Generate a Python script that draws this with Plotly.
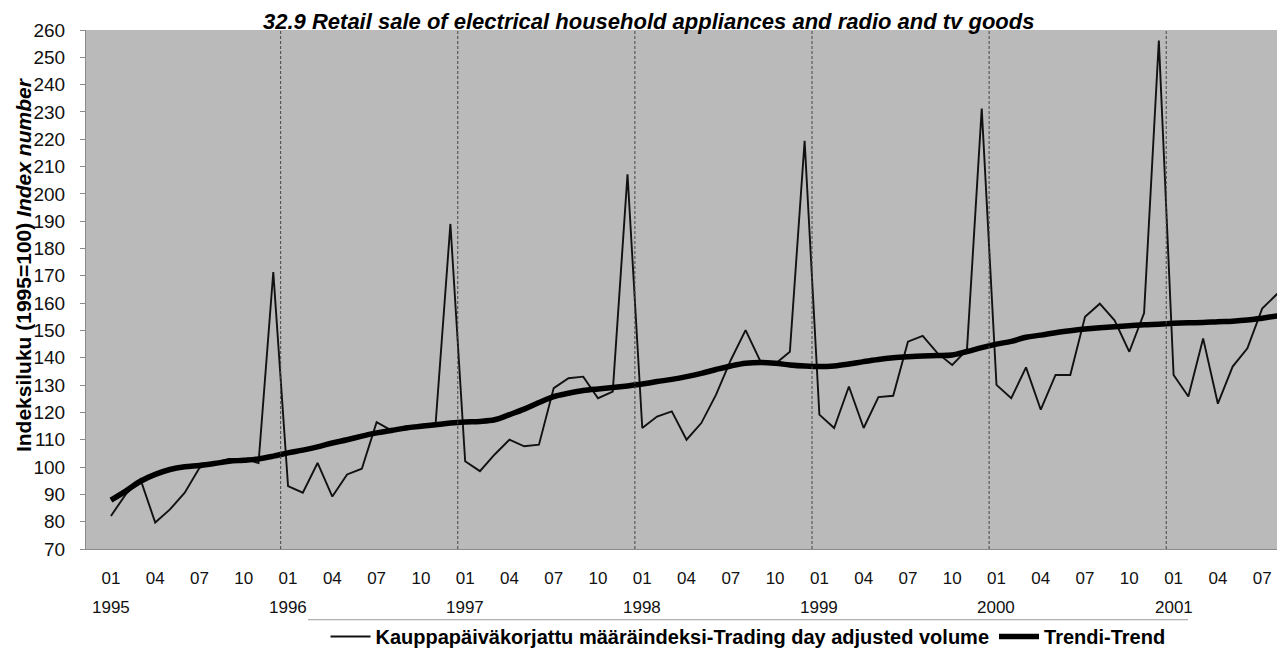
import plotly.graph_objects as go

# ---------------- data ----------------
years = ["1995", "1996", "1997", "1998", "1999", "2000", "2001"]
month_labels = ["01", "04", "07", "10"]

volume = [
    82.1, 90.0, 95.5, 79.7, 84.5, 90.6, 99.7, 101.5, 103.0, 103.0, 101.5, 171.4,   # 1995
    93.0, 90.6, 101.5, 89.2, 97.3, 99.4, 116.4, 113.4, 114.9, 115.5, 116.0, 189.0,  # 1996
    102.1, 98.5, 104.6, 110.0, 107.6, 108.2, 128.9, 132.5, 133.1, 125.2, 127.6, 207.2,  # 1997
    114.3, 118.5, 120.4, 110.0, 116.1, 126.5, 139.2, 150.1, 138.8, 137.7, 142.2, 219.4,  # 1998
    119.2, 114.3, 129.5, 114.3, 125.6, 126.1, 145.9, 148.0, 141.7, 137.4, 142.9, 231.2,  # 1999
    130.1, 125.2, 136.5, 121.0, 133.7, 133.7, 155.0, 159.8, 153.7, 142.2, 156.4, 256.1,  # 2000
    133.7, 125.8, 147.1, 123.2, 136.8, 143.5, 158.0, 163.3, 162.3,                      # 2001
]

trend = [
    87.9, 91.2, 94.8, 97.3, 99.1, 100.1, 100.6, 101.3, 102.1, 102.5, 103.0, 104.0,
    105.2, 106.2, 107.4, 108.8, 110.0, 111.3, 112.5, 113.4, 114.3, 114.9, 115.5, 116.1,
    116.5, 116.7, 117.3, 119.2, 121.2, 123.6, 125.8, 127.0, 128.0, 128.6, 129.1, 129.7,
    130.4, 131.3, 132.1, 133.1, 134.3, 135.7, 137.0, 138.0, 138.3, 138.0, 137.4, 137.0,
    136.8, 137.0, 137.7, 138.6, 139.4, 140.0, 140.4, 140.7, 140.8, 141.0, 142.3, 143.7,
    145.0, 146.0, 147.5, 148.3, 149.2, 149.9, 150.5, 151.0, 151.4, 151.7, 152.1, 152.3,
    152.6, 152.8, 152.9, 153.2, 153.4, 153.8, 154.5, 155.3, 156.0,
]

name_volume = "Kauppapäiväkorjattu määräindeksi-Trading day adjusted volume"
name_trend = "Trendi-Trend"
title_text = "32.9 Retail sale of electrical household appliances and radio and tv goods"
ytitle_text = "<b>Indeksiluku (1995=100) <i>Index number</i></b>"

# ---------------- figure ----------------
FONT = "Liberation Sans, Arial, sans-serif"
W, H = 1285, 648
L, R, T, B = 78, 0, 22, 105
PW, PH = W - L - R, H - T - B

n = len(volume)
x = list(range(n))

tickvals = [i for i in range(n) if i % 3 == 0]
ticktext = [month_labels[(i % 12) // 3] for i in tickvals]

fig = go.Figure()
fig.add_trace(go.Scatter(x=x, y=volume, mode="lines", name=name_volume,
                         line=dict(color="#111111", width=1.9)))
fig.add_trace(go.Scatter(x=x, y=trend, mode="lines", name=name_trend,
                         line=dict(color="#000000", width=5.5, shape="spline")))


def px_x(p):
    return (p - L) / PW


def px_y(p):
    return (H - B - p) / PH


# year boundary dashed lines
shapes = []
for k in range(1, len(years)):
    xb = 12 * k - 0.5
    shapes.append(dict(type="line", xref="x", yref="paper", x0=xb, x1=xb, y0=0, y1=1,
                       line=dict(color="#444444", width=1, dash="3px,2px"), layer="above"))
# legend box top line
shapes.append(dict(type="line", xref="paper", yref="paper", x0=px_x(300), x1=px_x(1180),
                   y0=px_y(614), y1=px_y(614), line=dict(color="#9a9a9a", width=1)))

annotations = []
for k, yr in enumerate(years):
    annotations.append(dict(x=12 * k, xref="x", y=px_y(602), yref="paper", text=yr,
                            showarrow=False, xanchor="center", yanchor="middle",
                            font=dict(family=FONT, size=17, color="#111")))
annotations.append(dict(x=px_x(640), xref="paper", y=px_y(0), yref="paper",
                        text="<b><i>" + title_text + "</i></b>", showarrow=False,
                        xanchor="center", yanchor="top", borderpad=0,
                        font=dict(family=FONT, size=22, color="#000")))
annotations.append(dict(x=px_x(15), xref="paper", y=px_y(258), yref="paper",
                        text=ytitle_text, textangle=-90, showarrow=False,
                        xanchor="center", yanchor="middle",
                        font=dict(family=FONT, size=21, color="#000")))

fig.update_layout(
    width=W, height=H,
    margin=dict(l=L, r=R, t=T, b=B),
    paper_bgcolor="white",
    plot_bgcolor="#bababa",
    font=dict(family=FONT, color="#111"),
    showlegend=True,
    legend=dict(orientation="h", x=px_x(740), xanchor="center", y=px_y(631), yanchor="middle",
                font=dict(family=FONT, size=20, color="#000", weight="bold"),
                bgcolor="rgba(0,0,0,0)", itemwidth=40, tracegroupgap=0),
    shapes=shapes,
    annotations=annotations,
    xaxis=dict(range=[-1.69, 80.09], tickvals=tickvals, ticktext=ticktext,
               showgrid=False, zeroline=False, showline=True, linecolor="#8a8a8a",
               linewidth=1, ticks="", ticklabelstandoff=14,
               tickfont=dict(family=FONT, size=17, color="#111")),
    yaxis=dict(range=[70, 260], dtick=10, tick0=70, showgrid=False, zeroline=False,
               showline=True, linecolor="#8a8a8a", linewidth=1, ticks="outside",
               ticklen=5, tickcolor="#8a8a8a", ticklabelstandoff=11,
               tickfont=dict(family=FONT, size=19, color="#111")),
)

fig.write_html("out.html")
